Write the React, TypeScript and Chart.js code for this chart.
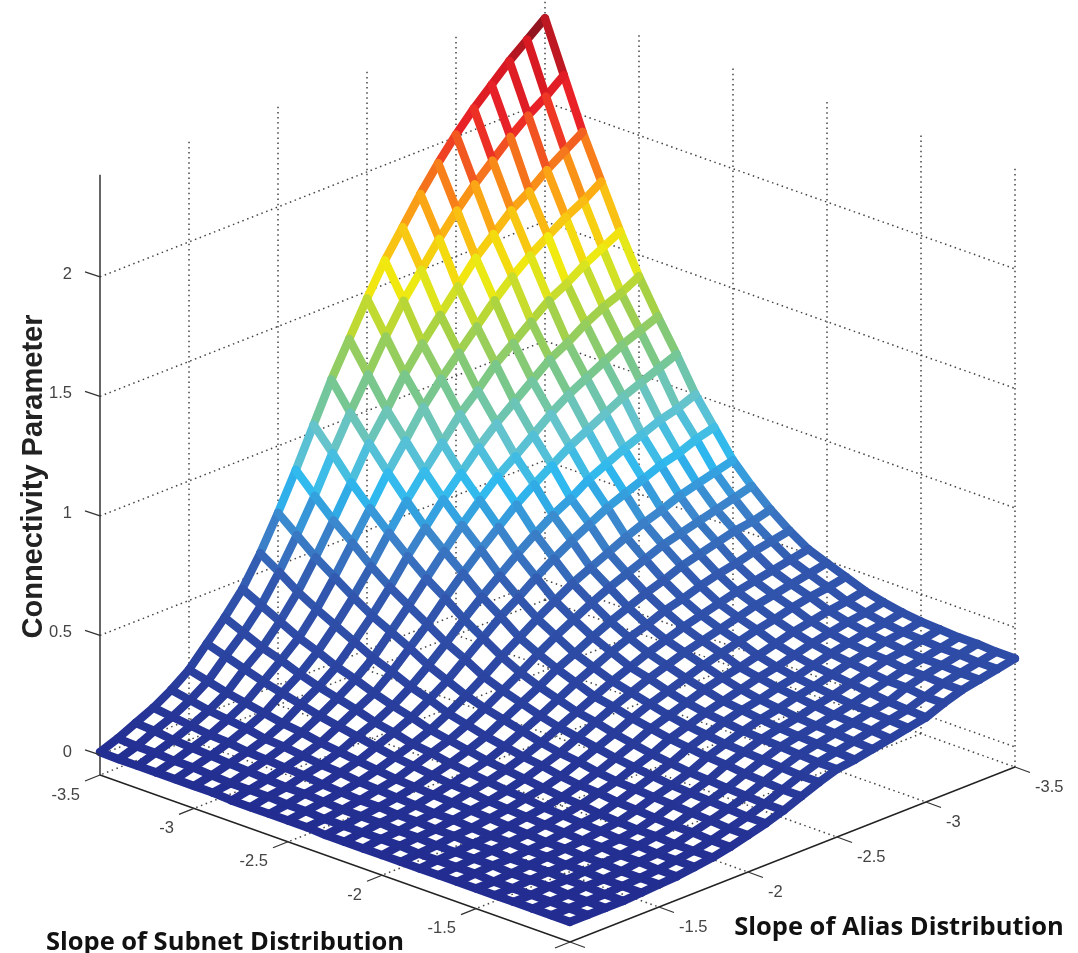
import React, { useEffect, useRef } from "react";
import { Chart, registerables } from "chart.js";

Chart.register(...registerables);

const subnetSlopes = [-3.5,-3.4,-3.3,-3.2,-3.1,-3,-2.9,-2.8,-2.7,-2.6,-2.5,-2.4,-2.3,-2.2,-2.1,-2,-1.9,-1.8,-1.7,-1.6,-1.5,-1.4,-1.3,-1.2,-1.1,-1];
const aliasSlopes = [-3.5,-3.4,-3.3,-3.2,-3.1,-3,-2.9,-2.8,-2.7,-2.6,-2.5,-2.4,-2.3,-2.2,-2.1,-2,-1.9,-1.8,-1.7,-1.6,-1.5,-1.4,-1.3,-1.2,-1.1,-1];
// rows: alias slope, columns: subnet slope
const connectivity: number[][] = [
[2.35,2.14,1.93,1.75,1.57,1.41,1.27,1.14,1.00,.89,.78,.70,.63,.57,.52,.49,.46,.43,.41,.395,.385,.38,.375,.375,.37,.37],
[2.29,2.08,1.88,1.70,1.53,1.37,1.24,1.11,.97,.87,.76,.68,.61,.555,.505,.475,.445,.415,.395,.38,.37,.365,.36,.36,.355,.355],
[2.23,2.03,1.83,1.66,1.49,1.34,1.21,1.08,.95,.84,.74,.66,.60,.54,.49,.46,.435,.405,.385,.37,.36,.35,.345,.345,.34,.34],
[2.16,1.97,1.77,1.61,1.44,1.30,1.17,1.05,.92,.82,.72,.64,.58,.52,.475,.445,.42,.39,.37,.355,.345,.34,.33,.33,.325,.325],
[2.09,1.90,1.72,1.56,1.40,1.25,1.13,1.01,.89,.79,.69,.62,.56,.505,.46,.43,.40,.375,.355,.34,.33,.32,.31,.31,.30,.30],
[2.01,1.83,1.65,1.50,1.34,1.21,1.09,.97,.855,.76,.665,.60,.54,.485,.44,.41,.385,.355,.335,.32,.31,.30,.29,.28,.275,.27],
[1.92,1.75,1.58,1.43,1.28,1.15,1.04,.93,.82,.73,.635,.57,.51,.46,.42,.39,.365,.335,.315,.30,.29,.28,.27,.265,.26,.255],
[1.82,1.66,1.49,1.35,1.22,1.09,.98,.88,.77,.69,.60,.54,.485,.44,.40,.37,.345,.315,.30,.285,.275,.265,.255,.25,.245,.24],
[1.71,1.56,1.40,1.27,1.14,1.03,.92,.83,.73,.65,.565,.51,.455,.41,.375,.35,.325,.30,.28,.265,.255,.245,.24,.235,.23,.225],
[1.60,1.46,1.31,1.19,1.07,.96,.865,.775,.68,.605,.53,.475,.425,.385,.35,.325,.30,.28,.26,.25,.24,.23,.225,.22,.215,.21],
[1.47,1.34,1.21,1.10,.98,.88,.795,.71,.625,.555,.485,.435,.39,.355,.32,.30,.275,.255,.24,.23,.22,.215,.21,.205,.20,.20],
[1.33,1.21,1.09,.99,.89,.80,.72,.645,.565,.50,.44,.395,.35,.32,.29,.27,.25,.23,.215,.205,.195,.19,.185,.18,.175,.175],
[1.19,1.08,.98,.885,.795,.71,.64,.575,.505,.45,.39,.35,.315,.285,.255,.24,.22,.205,.19,.18,.17,.165,.155,.15,.145,.145],
[1.03,.94,.845,.765,.69,.62,.555,.50,.44,.39,.34,.30,.27,.245,.22,.205,.185,.17,.155,.145,.135,.13,.125,.12,.115,.115],
[.87,.79,.715,.65,.58,.52,.47,.42,.37,.33,.285,.255,.23,.205,.185,.17,.155,.14,.13,.12,.11,.105,.10,.095,.09,.09],
[.72,.655,.59,.535,.48,.43,.39,.35,.305,.27,.235,.21,.19,.17,.15,.135,.125,.11,.10,.095,.09,.085,.08,.075,.07,.07],
[.58,.53,.475,.43,.39,.35,.31,.28,.245,.22,.19,.17,.15,.135,.12,.11,.095,.085,.08,.07,.065,.06,.055,.055,.05,.05],
[.46,.42,.38,.34,.31,.275,.25,.22,.195,.175,.15,.135,.12,.105,.095,.085,.075,.065,.06,.05,.045,.04,.04,.035,.035,.035],
[.37,.335,.30,.275,.245,.22,.20,.18,.155,.14,.12,.11,.095,.085,.075,.065,.06,.05,.045,.04,.035,.03,.03,.025,.025,.025],
[.29,.265,.24,.215,.195,.175,.155,.14,.125,.11,.095,.085,.075,.065,.06,.05,.045,.04,.035,.03,.025,.025,.02,.02,.015,.015],
[.21,.19,.17,.155,.14,.125,.115,.10,.09,.08,.07,.06,.055,.05,.045,.04,.035,.03,.025,.02,.02,.015,.015,.01,.01,.01],
[.155,.14,.125,.115,.105,.09,.085,.075,.065,.06,.05,.045,.04,.035,.03,.03,.025,.02,.02,.015,.015,.01,.01,.005,.005,.005],
[.11,.10,.09,.08,.075,.065,.06,.055,.05,.04,.035,.03,.03,.025,.025,.02,.02,.015,.015,.01,.01,.01,.005,.005,0,0],
[.075,.07,.06,.055,.05,.045,.04,.035,.03,.03,.025,.02,.02,.02,.015,.015,.01,.01,.01,.01,.005,.005,.005,0,0,0],
[.04,.035,.035,.03,.03,.025,.02,.02,.02,.015,.015,.01,.01,.01,.01,.01,.005,.005,.005,.005,0,0,0,0,0,0],
[.012,.01,.01,.01,.01,.01,.01,.005,.005,.005,.005,.005,0,0,0,0,0,0,0,0,0,0,0,0,0,0],
];
const subnetTicks = [-3.5, -3, -2.5, -2, -1.5];
const aliasTicks = [-3.5, -3, -2.5, -2, -1.5];
const zTicks = [0, 0.5, 1, 1.5, 2];
const zAxisRange = [-0.084, 2.427];
const colorStops: [number, number[]][] = [
  [0, [35, 45, 145]], [0.5, [50, 88, 175]], [0.68, [60, 135, 205]], [0.82, [45, 185, 240]],
  [0.98, [100, 195, 205]], [1.18, [125, 200, 130]], [1.35, [170, 210, 65]], [1.52, [240, 235, 15]],
  [1.72, [252, 175, 20]], [1.88, [245, 110, 30]], [2.02, [235, 35, 40]], [2.2, [215, 25, 35]], [2.35, [130, 20, 30]],
];

const W = 1078, H = 953;
const PX_PER_Z = 239;
const Z0_PX = 755;
const subnetMin = -3.5, sliceLen = 2.5, aliasFront = -1;

function floorX(s: number, a: number) {
  return 100 + ((s - subnetMin) / sliceLen) * 470 + ((aliasFront - a) / sliceLen) * 445;
}
function floorYUnits(s: number, a: number) {
  const py = 775 + ((s - subnetMin) / sliceLen) * 167 - ((aliasFront - a) / sliceLen) * 175;
  return (Z0_PX - py) / PX_PER_Z;
}
function project(s: number, a: number, z: number) {
  return { x: floorX(s, a), y: floorYUnits(s, a) + z - zAxisRange[0] };
}
function colorFor(z: number) {
  for (let i = 1; i < colorStops.length; i++) {
    const [z1, c1] = colorStops[i];
    const [z0, c0] = colorStops[i - 1];
    if (z <= z1) {
      const t = Math.max(0, (z - z0) / (z1 - z0));
      return `rgb(${c0.map((v, k) => Math.round(v + (c1[k] - v) * t)).join(",")})`;
    }
  }
  return "rgb(130,20,30)";
}

const GRID = { borderColor: "#444", borderWidth: 1.5, borderDash: [1.5, 3.6] };
const AXIS = { borderColor: "#222", borderWidth: 1.4 };

function lineDs(points: { x: number; y: number }[], style: any, order: number) {
  return { data: points, showLine: true, pointRadius: 0, order, clip: false, ...style };
}

function buildDatasets() {
  const ds: any[] = [];
  const [zLo, zHi] = zAxisRange;
  const sBack = subnetTicks[0], aBack = aliasTicks[0];
  for (const z of zTicks) {
    ds.push(lineDs([project(sBack, aliasFront, z), project(sBack, aBack, z), project(aliasFront, aBack, z)], GRID, 100));
  }
  for (const a of [...aliasTicks, aliasFront]) {
    if (a !== aliasFront) ds.push(lineDs([project(sBack, a, zLo), project(sBack, a, zHi)], GRID, 100));
    ds.push(lineDs([project(sBack, a, zLo), project(aliasFront, a, zLo)], a === aliasFront ? AXIS : GRID, a === aliasFront ? 50 : 100));
  }
  for (const s of [...subnetTicks, aliasFront]) {
    if (s !== sBack) ds.push(lineDs([project(s, aBack, zLo), project(s, aBack, zHi)], GRID, 100));
    ds.push(lineDs([project(s, aBack, zLo), project(s, aliasFront, zLo)], s === aliasFront ? AXIS : GRID, s === aliasFront ? 50 : 100));
  }
  ds.push(lineDs([project(sBack, aliasFront, zLo), project(sBack, aliasFront, zHi)], { borderColor: "#333", borderWidth: 1.5 }, 50));

  const meshStyle = (zs: number[]) => ({
    borderWidth: 8.4,
    borderCapStyle: "round",
    borderJoinStyle: "round",
    borderColor: colorFor(zs[0]),
    segment: {
      borderColor: (ctx: any) => colorFor((zs[ctx.p0DataIndex] + zs[ctx.p1DataIndex]) / 2),
    },
  });
  aliasSlopes.forEach((a, k) => {
    const zs = connectivity[k];
    ds.push(lineDs(subnetSlopes.map((s, j) => project(s, a, zs[j])), meshStyle(zs), 10 - k));
  });
  subnetSlopes.forEach((s, j) => {
    const zs = connectivity.map((r) => r[j]);
    ds.push(lineDs(aliasSlopes.map((a, k) => project(s, a, zs[k])), meshStyle(zs), 10 - j));
  });
  return ds;
}

const axisDecor = {
  id: "axisDecor",
  afterDatasetsDraw(chart: any) {
    const { ctx, scales } = chart;
    const X = (v: number) => scales.x.getPixelForValue(v);
    const Y = (v: number) => scales.y.getPixelForValue(v);
    const zLo = zAxisRange[0];
    ctx.save();
    ctx.strokeStyle = "#333";
    ctx.lineWidth = 1.2;
    const seg = (x0: number, y0: number, dx: number, dy: number) => {
      ctx.beginPath();
      ctx.moveTo(x0, y0);
      ctx.lineTo(x0 + dx, y0 + dy);
      ctx.stroke();
    };
    for (const z of zTicks) {
      const p = project(subnetTicks[0], aliasFront, z);
      seg(X(p.x), Y(p.y), -15, -5);
    }
    ctx.font = "16.5px 'Liberation Sans'";
    ctx.fillStyle = "#444";
    ctx.textBaseline = "middle";
    for (const s of [...subnetTicks, aliasFront]) {
      const p = project(s, aliasFront, zLo);
      seg(X(p.x), Y(p.y), -15, 6);
      if (s !== aliasFront) {
        ctx.textAlign = "right";
        ctx.fillText(String(s), X(p.x) - 20, Y(p.y) + 20);
      }
    }
    for (const a of [...aliasTicks, aliasFront]) {
      const p = project(aliasFront, a, zLo);
      seg(X(p.x), Y(p.y), 15, 5.5);
      if (a !== aliasFront) {
        ctx.textAlign = "left";
        ctx.fillText(String(a), X(p.x) + 20, Y(p.y) + 20);
      }
    }
    ctx.font = "bold 25.5px 'Open Sans'";
    ctx.fillStyle = "#111";
    ctx.textAlign = "center";
    ctx.fillText("Slope of Subnet Distribution", 225, 943);
    ctx.fillText("Slope of Alias Distribution", 899, 928);
    ctx.restore();
  },
};

export default function App() {
  const ref = useRef<HTMLCanvasElement>(null);
  useEffect(() => {
    const chart = new Chart(ref.current as HTMLCanvasElement, {
      type: "scatter",
      data: { datasets: buildDatasets() },
      plugins: [axisDecor],
      options: {
        animation: false,
        responsive: false,
        devicePixelRatio: 1,
        layout: { padding: 0 },
        plugins: { legend: { display: false }, tooltip: { enabled: false }, title: { display: false } },
        events: [],
        scales: {
          x: { type: "linear", display: false, min: 100, max: W },
          y: {
            type: "linear",
            min: (Z0_PX - H) / PX_PER_Z,
            max: Z0_PX / PX_PER_Z,
            afterBuildTicks: (axis: any) => { axis.ticks = zTicks.map((value) => ({ value })); },
            afterFit: (axis: any) => { axis.width = 100; axis.paddingTop = 0; axis.paddingBottom = 0; },
            grid: { display: false },
            border: { display: false },
            ticks: {
              callback: (v: any) => String(v),
              padding: 20,
              labelOffset: -3,
              font: { family: "'Liberation Sans'", size: 16.5 },
              color: "#444",
              autoSkip: false,
            },
            title: {
              display: true,
              text: "Connectivity Parameter",
              font: { family: "'Liberation Sans'", size: 29, weight: "bold" },
              color: "#222",
              padding: { top: 17, bottom: 0 },
            },
          },
        },
      } as any,
    } as any);
    return () => chart.destroy();
  }, []);
  return (
    <div style={{ position: "absolute", left: 0, top: 0, width: W, height: H, background: "#fff" }}>
      <canvas ref={ref} width={W} height={H} style={{ display: "block", filter: "blur(0.5px)" }} />
    </div>
  );
}
